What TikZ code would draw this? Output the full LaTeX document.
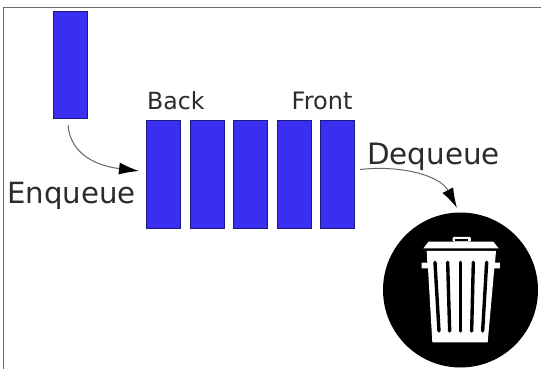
\documentclass[tikz,border=0pt]{standalone}
\usepackage{fontspec}
\setmainfont{DejaVu Sans}
\usetikzlibrary{arrows.meta}
\definecolor{qblue}{HTML}{3A2FF0}
\definecolor{qedge}{HTML}{1C1A80}
\definecolor{qtext}{HTML}{2B2B2B}
\definecolor{qframe}{HTML}{6A6A6A}
\tikzset{
  cellbox/.style={draw=qedge,line width=0.7pt,fill=qblue,minimum width=34pt,minimum height=107pt,inner sep=0pt,anchor=north west},
  lab/.style={text=qtext,inner sep=0pt,anchor=base west},
  flow/.style={draw=black!60,line width=1pt,-{Latex[length=20pt,width=12pt,black]}}
}
\begin{document}
\begin{tikzpicture}[x=1pt,y=-1pt]
\useasboundingbox (0,0) rectangle (541,369);
\fill[white] (0,0) rectangle (541,369);
\draw[qframe,line width=1.2pt] (3.5,369) -- (3.5,7.5) -- (541,7.5);
\node[cellbox] (new) at (53,11) {};
\node[cellbox,minimum height=108pt] (c1) at (146,120) {};
\node[cellbox,minimum height=108pt] (c2) at (190,120) {};
\node[cellbox,minimum height=108pt] (c3) at (233,120) {};
\node[cellbox,minimum height=108pt] (c4) at (277,120) {};
\node[cellbox,minimum height=108pt] (c5) at (320,120) {};
\node[lab,font=\fontsize{23.6pt}{26pt}\selectfont] (back) at (147,110) {Back};
\node[lab,font=\fontsize{24pt}{26pt}\selectfont] (front) at (291.5,110) {Front};
\node[lab,font=\fontsize{29.2pt}{32pt}\selectfont] (enq) at (7,203) {Enqueue};
\node[lab,font=\fontsize{29.4pt}{32pt}\selectfont] (deq) at (367,164) {Dequeue};
\node[circle,fill=black,minimum size=155pt,inner sep=0pt] (bin) at (460.5,290) {};
\coordinate (e1) at (68,125);
\coordinate (e2) at (139,171);
\coordinate (d1) at (360,169.5);
\coordinate (d2) at (457,208);
\draw[flow] (e1) .. controls (70,150) and (90,165) .. (e2);
\draw[flow] (d1) .. controls (400,165) and (440,175) .. (d2);
\begin{scope}[shift={(370,200)},x=0.3333pt,y=-0.3333pt]
  \fill[white,rounded corners=1pt] (248,125) -- (248,111) -- (303,111) -- (303,125) -- cycle;
  \fill[black] (256,117) rectangle (295,124);
  \fill[white] (160,145) -- (176,125) -- (370,125) -- (386,145) -- cycle;
  \fill[white] (170,153) -- (378,153) -- (375,188) -- (390,188) -- (390,205) -- (373,205) -- (353,427) -- (187,427) -- (174,205) -- (155,205) -- (155,188) -- (172,188) -- cycle;
  \foreach \a/\b in {195/207,233/239,272/272,310/305,350/338}
    \draw[black,line width=3.4pt,line cap=round] (\a,187) -- (\b,393);
\end{scope}
\end{tikzpicture}
\end{document}
